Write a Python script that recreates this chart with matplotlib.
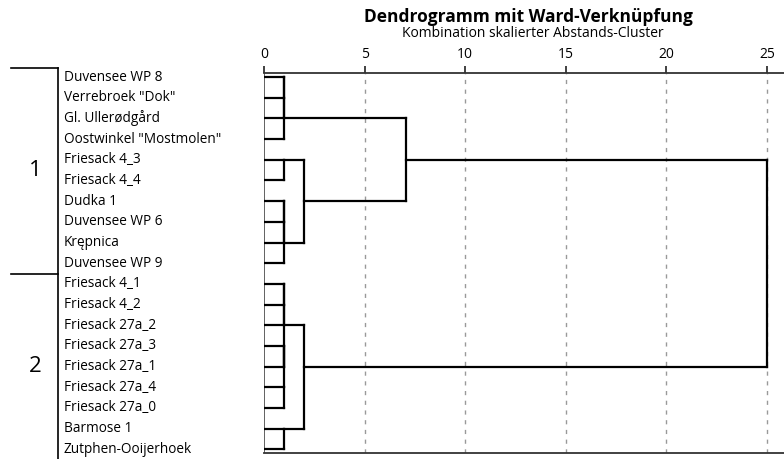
import matplotlib
matplotlib.use("Agg")
import matplotlib.pyplot as plt
import matplotlib.transforms as mtransforms

plt.rcParams["font.family"] = ["Open Sans", "DejaVu Sans"]

# leaf order as it appears down the dendrogram
LEAVES = [
    "Duvensee WP 8", "Verrebroek \"Dok\"", "Gl. Ullerødgård", "Oostwinkel \"Mostmolen\"",
    "Friesack 4_3", "Friesack 4_4", "Dudka 1", "Duvensee WP 6", "Krępnica", "Duvensee WP 9",
    "Friesack 4_1", "Friesack 4_2", "Friesack 27a_2", "Friesack 27a_3", "Friesack 27a_1",
    "Friesack 27a_4", "Friesack 27a_0", "Barmose 1", "Zutphen-Ooijerhoek",
]

# (left id, right id, rescaled distance); ids >= len(LEAVES) point to earlier merges
MERGES = [
    (0, 1, 1.0), (19, 2, 1.0), (20, 3, 1.0),                 # 19-21
    (4, 5, 1.0),                                             # 22
    (6, 7, 1.0), (23, 8, 1.0), (24, 9, 1.0),                 # 23-25
    (22, 25, 2.0),                                           # 26
    (21, 26, 7.05),                                          # 27
    (10, 11, 1.0), (28, 12, 1.0), (13, 14, 1.0),
    (15, 16, 1.0), (30, 31, 1.0), (29, 32, 1.0),             # 28-33
    (17, 18, 1.0),                                           # 34
    (33, 34, 2.0),                                           # 35
    (27, 35, 25.0),                                          # 36
]

GROUP_NAMES = ["1", "2"]
GROUP_SIZES = [10, 9]
TICKS = [0, 5, 10, 15, 20, 25]

TITLE = "Dendrogramm mit Ward-Verknüpfung"
SUBTITLE = "Kombination skalierter Abstands-Cluster"

W, H = 784, 459
fig = plt.figure(figsize=(W / 100, H / 100), dpi=100)
ax = fig.add_axes([264 / W, 1 - 453.3 / H, 520 / W, 380 / H])
ax.set_xlim(0, 520 / 20.12)
ax.set_ylim(18.19, -0.18)

# --- dendrogram ---
n = len(LEAVES)
row = {i: i for i in range(n)}
height = {i: 0.0 for i in range(n)}
kw = dict(color="black", lw=1.6, solid_capstyle="projecting", zorder=3)
for k, (a, b, h) in enumerate(MERGES):
    for c in (a, b):
        ax.plot([height[c], h], [row[c], row[c]], **kw)
    ax.plot([h, h], [row[a], row[b]], **kw)
    row[n + k] = (row[a] + row[b]) // 2
    height[n + k] = h

# --- axes styling ---
for s in ("left", "right"):
    ax.spines[s].set_visible(False)
for s in ("top", "bottom"):
    ax.spines[s].set_color("#333333")
    ax.spines[s].set_linewidth(1.3)
ax.axvline(0, color="#555555", lw=1.3, zorder=2)
ax.xaxis.tick_top()
ax.set_xticks(TICKS)
ax.set_xticklabels([str(t) for t in TICKS])
ax.tick_params(axis="x", direction="out", length=5, width=1.3, pad=3,
               labelsize=10, color="#333333")
ax.set_yticks([])
for t in TICKS[1:]:
    ax.axvline(t, color="#999999", lw=1.0, ls=(0, (3, 4)), zorder=1)

# --- leaf labels and group brackets ---
blend = mtransforms.blended_transform_factory(ax.transAxes, ax.transData)
for i, name in enumerate(LEAVES):
    ax.text(-200 / 520, i, name, transform=blend, ha="left", va="center",
            fontsize=9.8, clip_on=False)

x_bar = -206 / 520
x_left = -253 / 520
line_kw = dict(color="black", lw=1.2, transform=blend, clip_on=False)
ax.plot([x_left, x_bar], [-0.45, -0.45], **line_kw)
ax.plot([x_bar, x_bar], [-0.45, 18.7], **line_kw)
start = 0
for name, size in zip(GROUP_NAMES, GROUP_SIZES):
    end = start + size - 1
    ax.text(-229 / 520, (start + end) / 2, name, transform=blend, ha="center",
            va="center", fontsize=16, clip_on=False)
    if end < n - 1:
        ax.plot([x_left, x_bar], [end + 0.5, end + 0.5], **line_kw)
    start = end + 1

fig.text(528 / W, 1 - 22 / H, TITLE, ha="center", va="baseline",
         fontsize=12.5, fontweight="bold")
fig.text(533 / W, 1 - 37 / H, SUBTITLE, ha="center", va="baseline", fontsize=10)

fig.savefig("out.png", dpi=100)
